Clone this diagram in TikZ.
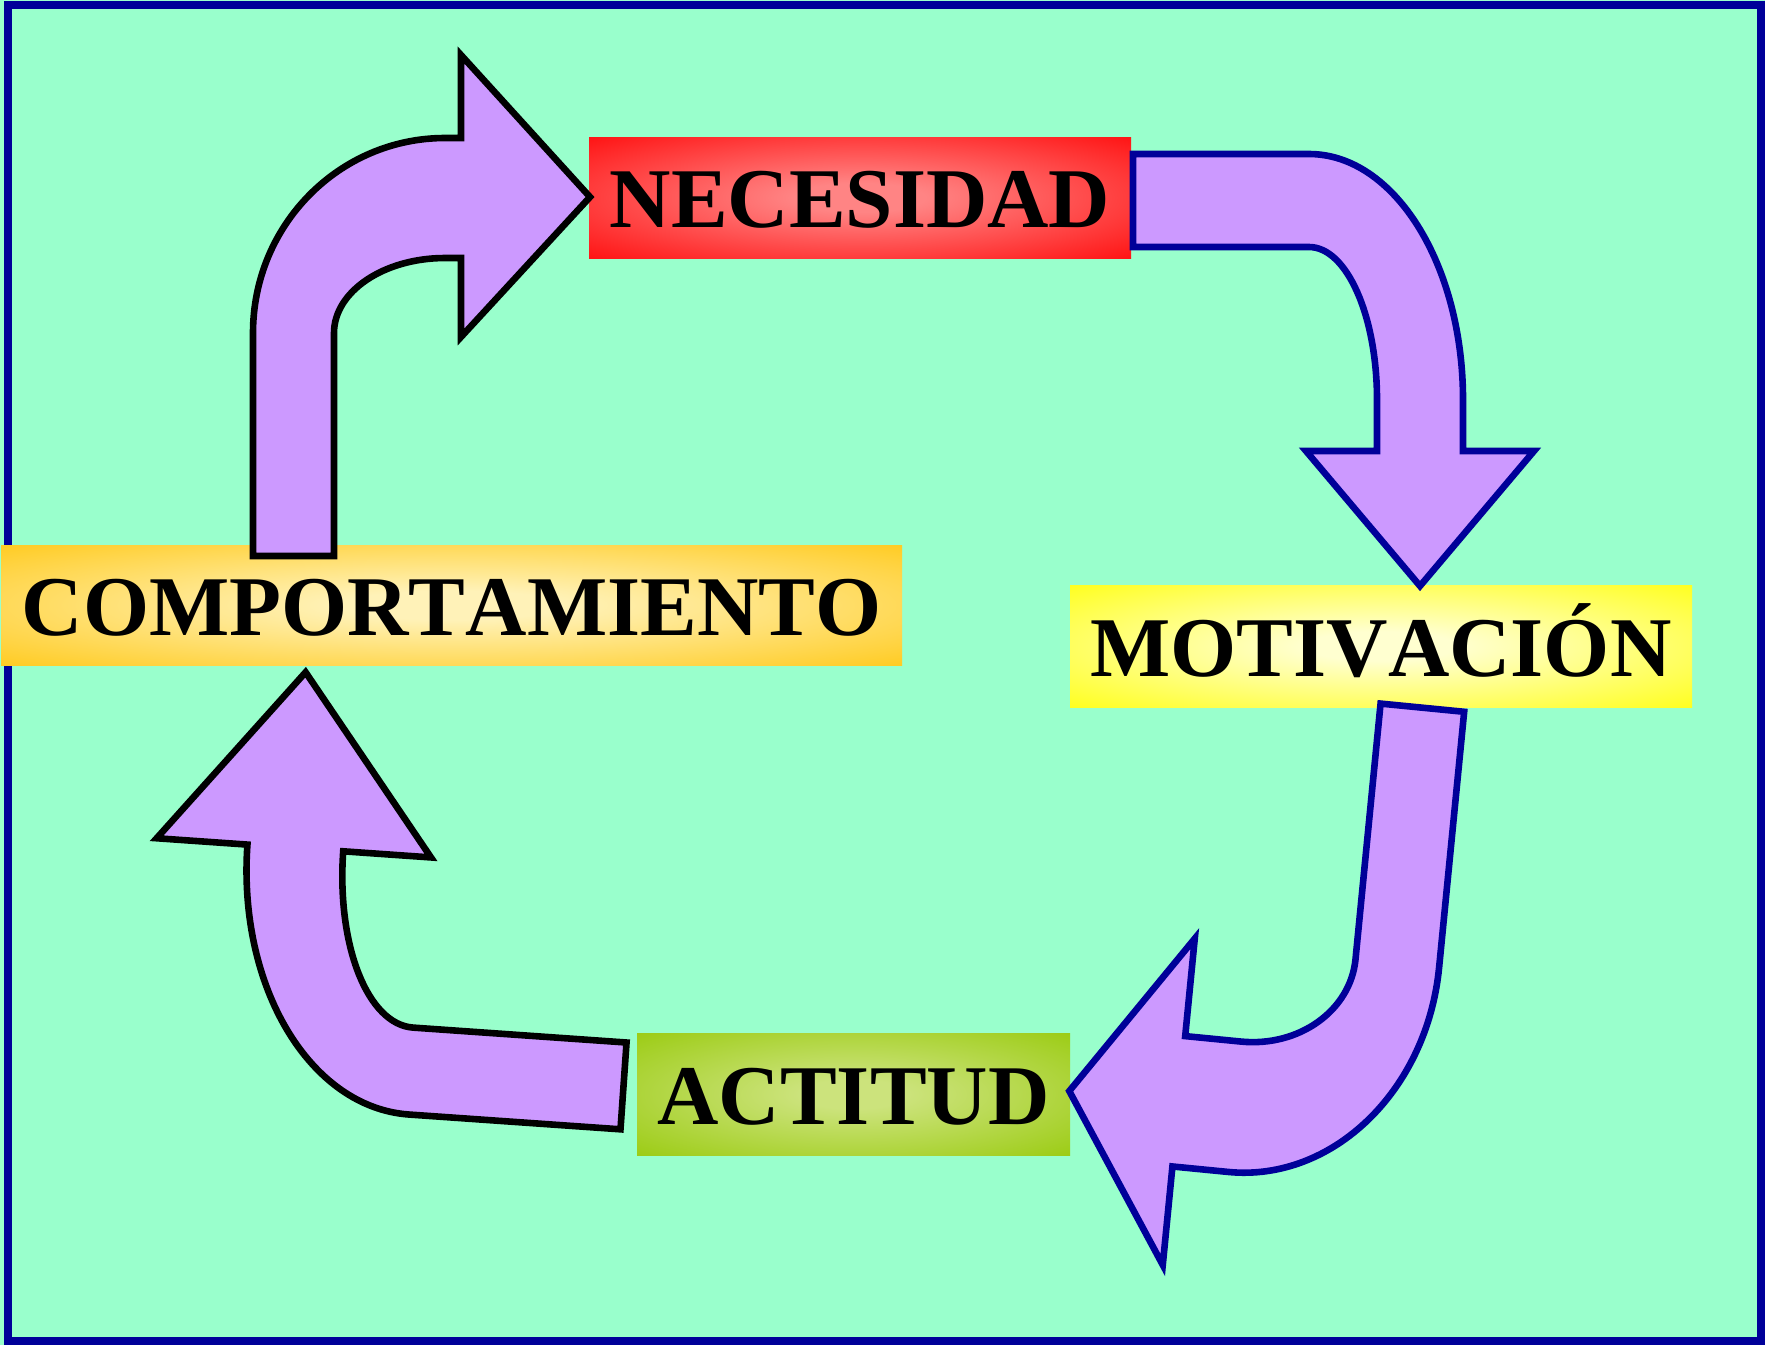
\documentclass[tikz,border=0pt]{standalone}
\usepackage{fontspec}
\setmainfont{Liberation Serif}[Kerning=Off]
\definecolor{bg}{HTML}{99FFCC}
\definecolor{frameblue}{HTML}{000099}
\definecolor{arrowfill}{HTML}{CC99FF}
\definecolor{necin}{HTML}{FF8484}
\definecolor{necout}{HTML}{FF0A0A}
\definecolor{comin}{HTML}{FFF2B8}
\definecolor{comout}{HTML}{FFC816}
\definecolor{motin}{HTML}{FFFFD0}
\definecolor{motout}{HTML}{FFFF10}
\definecolor{actin}{HTML}{CCE37C}
\definecolor{actout}{HTML}{98CA0C}
\pgfdeclareradialshading{necshade}{\pgfpoint{0bp}{0bp}}{color(0bp)=(necin); color(6bp)=(necin); color(38bp)=(necout); color(50bp)=(necout)}
\pgfdeclareradialshading{comshade}{\pgfpoint{0bp}{0bp}}{color(0bp)=(comin); color(6bp)=(comin); color(38bp)=(comout); color(50bp)=(comout)}
\pgfdeclareradialshading{motshade}{\pgfpoint{0bp}{0bp}}{color(0bp)=(motin); color(6bp)=(motin); color(38bp)=(motout); color(50bp)=(motout)}
\pgfdeclareradialshading{actshade}{\pgfpoint{0bp}{0bp}}{color(0bp)=(actin); color(6bp)=(actin); color(38bp)=(actout); color(50bp)=(actout)}
\tikzset{
  box/.style={shade, inner sep=0pt, outer sep=0pt,
    font=\fontsize{42.5}{50}\selectfont\bfseries,
    text height=30pt, text depth=0pt},
  arrowK/.style={fill=arrowfill, draw=black, line width=3.3pt, line join=miter},
  arrowB/.style={fill=arrowfill, draw=frameblue, line width=3.3pt, line join=miter}
}
\begin{document}
\begin{tikzpicture}[x=0.5pt,y=-0.5pt]
\useasboundingbox (0,0) rectangle (1765,1345);
\fill[bg] (0,0) rectangle (1765,1345);
\draw[frameblue, line width=4pt] (8,5) rectangle (1761,1341);

\node[box, minimum width=271pt, minimum height=60.5pt, shading=necshade] (nec) at (860,197.5) {NECESIDAD};
\node[box, minimum width=450.5pt, minimum height=60pt, shading=comshade] (com) at (451.5,605) {COMPORTAMIENTO};
\node[box, minimum width=311pt, minimum height=61pt, shading=motshade] (mot) at (1381,646) {MOTIVACIÓN};
\node[box, minimum width=216.5pt, minimum height=61pt, shading=actshade] (act) at (853.5,1094) {ACTITUD};

% arrow: COMPORTAMIENTO -> NECESIDAD
\draw[arrowK] (334,556) -- (253,556) -- (253,333) .. controls (253,225.3) and (339,138) .. (445,138)
  -- (461,138) -- (461,55) -- (590,197) -- (461,337) -- (461,258) -- (445,258)
  .. controls (383.7,258) and (334,291.6) .. (334,333) -- cycle;

% arrow: NECESIDAD -> MOTIVACION
\draw[arrowB] (1133,154) -- (1309,154) .. controls (1394,154) and (1463,264.1) .. (1463,400)
  -- (1463,451) -- (1534,451) -- (1420,586) -- (1306,451) -- (1377,451) -- (1377,400)
  .. controls (1377,315.5) and (1346.6,247) .. (1309,247) -- (1133,247) -- cycle;

% arrow: MOTIVACION -> ACTITUD
\begin{scope}[shift={(1250,949)}, rotate=-5.6]
\draw[arrowB] (106,-257) -- (106,0) .. controls (106,51.4) and (58.5,93) .. (0,93)
  -- (-56,93) -- (-56,-5) -- (-166,159) -- (-56,323) -- (-56,224) -- (0,224)
  .. controls (104.9,224) and (190,123.7) .. (190,0) -- (190,-257) -- cycle;
\end{scope}

% arrow: ACTITUD -> COMPORTAMIENTO
\begin{scope}[shift={(425,857)}, rotate=-4]
\draw[arrowK] (-82,0) -- (6,0) -- (-132,-176) -- (-269,0) -- (-178,0)
  .. controls (-178,143) and (-97,258) .. (2,258) -- (214,258) -- (214,171) -- (0,171)
  .. controls (-45.3,171) and (-82,95) .. (-82,0) -- cycle;
\end{scope}
\end{tikzpicture}
\end{document}
